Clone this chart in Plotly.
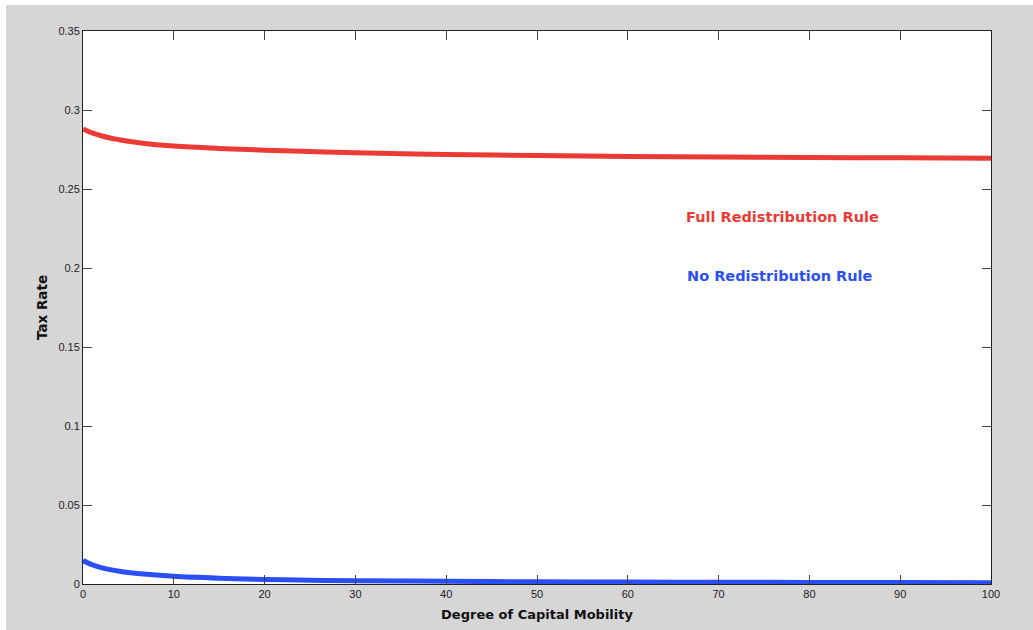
import plotly.graph_objects as go

mobility = [0, 1, 2, 3, 4, 5, 7, 10, 15, 20, 25, 30, 40, 50, 60, 70, 80, 90, 100]
full_redistribution = [0.288, 0.2855, 0.2837, 0.2823, 0.2812, 0.2802, 0.2787, 0.2772,
                       0.2757, 0.2746, 0.2737, 0.2729, 0.2719, 0.2712, 0.2706,
                       0.2702, 0.2699, 0.2697, 0.2695]
no_redistribution = [0.0148, 0.0122, 0.0104, 0.0091, 0.0081, 0.0073, 0.0061, 0.0049,
                     0.0037, 0.0029, 0.0024, 0.0021, 0.0017, 0.0014, 0.0012,
                     0.0011, 0.0010, 0.0009, 0.0008]

x_ticks = [0, 10, 20, 30, 40, 50, 60, 70, 80, 90, 100]
y_ticks = [0, 0.05, 0.1, 0.15, 0.2, 0.25, 0.3, 0.35]
y_tick_labels = ["0", "0.05", "0.1", "0.15", "0.2", "0.25", "0.3", "0.35"]

RED = "#ec3b34"
BLUE = "#2a4ff5"
TITLE_FONT = "DejaVu Sans, Verdana, sans-serif"

fig = go.Figure()
fig.add_trace(go.Scatter(x=mobility, y=full_redistribution, mode="lines",
                         line=dict(color=RED, width=5, shape="spline"),
                         showlegend=False, hoverinfo="skip"))
fig.add_trace(go.Scatter(x=mobility, y=no_redistribution, mode="lines",
                         line=dict(color=BLUE, width=5, shape="spline"),
                         showlegend=False, hoverinfo="skip"))

fig.add_annotation(x=66.2, y=0.2323, text="<b>Full Redistribution Rule</b>",
                   showarrow=False, xanchor="left", yanchor="middle",
                   font=dict(color=RED, size=14.5, family=TITLE_FONT))
fig.add_annotation(x=66.3, y=0.195, text="<b>No Redistribution Rule</b>",
                   showarrow=False, xanchor="left", yanchor="middle",
                   font=dict(color=BLUE, size=14.5, family=TITLE_FONT))

W, H = 1033, 630
L, R, T, B = 83, 42, 31, 46
pw, ph = W - L - R, H - T - B

# white outer strips (top and left) of the figure
fig.add_shape(type="rect", xref="paper", yref="paper", layer="below",
              x0=-L / pw - 0.05, x1=-(L - 6) / pw, y0=-B / ph - 0.05, y1=1 + T / ph + 0.05,
              fillcolor="white", line=dict(width=0))
fig.add_shape(type="rect", xref="paper", yref="paper", layer="below",
              x0=-L / pw - 0.05, x1=1 + R / pw + 0.05, y0=1 + (T - 5) / ph, y1=1 + T / ph + 0.05,
              fillcolor="white", line=dict(width=0))

axis_common = dict(showgrid=False, zeroline=False, showline=True, mirror="ticks",
                   linecolor="#222", linewidth=1, ticks="inside", ticklen=9,
                   tickcolor="#444", tickwidth=1,
                   tickfont=dict(size=11, color="#222", family="Liberation Sans, Arial"))

fig.update_xaxes(range=[0, 100], tickvals=x_ticks, ticktext=[str(v) for v in x_ticks],
                 title=dict(text="<b>Degree of Capital Mobility</b>", standoff=10,
                            font=dict(size=13, color="#111", family=TITLE_FONT)),
                 **axis_common)
fig.update_yaxes(range=[0, 0.35], tickvals=y_ticks, ticktext=y_tick_labels,
                 title=dict(text="<b>Tax Rate</b>", standoff=7,
                            font=dict(size=13.5, color="#111", family=TITLE_FONT)),
                 **axis_common)

fig.update_layout(width=W, height=H, margin=dict(l=L, r=R, t=T, b=B),
                  paper_bgcolor="#d6d6d6", plot_bgcolor="white")

fig.write_html("out.html")
